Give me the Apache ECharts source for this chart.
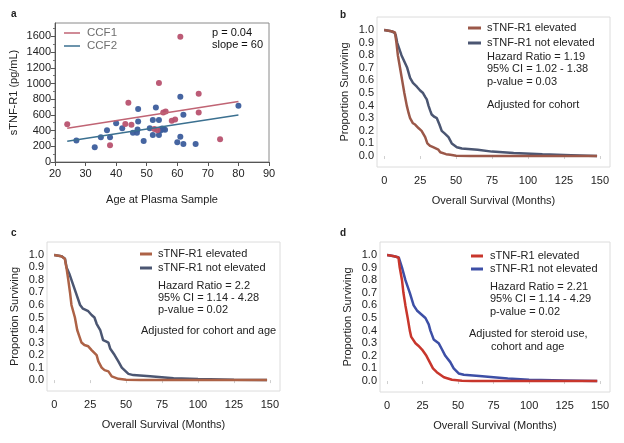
<!DOCTYPE html>
<html><head><meta charset="utf-8">
<script src="https://cdn.jsdelivr.net/npm/echarts@6/dist/echarts.min.js"></script>
<style>html,body{margin:0;padding:0;background:#fff}#c{width:624px;height:443px}</style>
</head><body><div id="c"></div><script>
// ---------- Panel a data ----------
const ccf1Age = [24, 38, 43, 44, 45, 52.5, 53.5, 54, 55.4, 56.2, 58.2, 59.3, 61, 67, 67, 74];
const ccf1Val = [480, 212, 483, 755, 474, 420, 405, 1005, 631, 644, 525, 541, 1595, 870, 631, 290];
const ccf2Age = [27, 33, 35, 37, 38, 40, 42, 45.5, 46.8, 47, 47.2, 47.2, 49, 51, 52, 52, 53, 54, 54, 54.5, 55, 55.5, 56, 60, 61, 61, 62, 62, 66, 80];
const ccf2Val = [273, 188, 316, 405, 316, 495, 431, 371, 371, 415, 516, 675, 269, 430, 534, 344, 695, 534, 344, 400, 425, 418, 410, 252, 832, 320, 602, 230, 230, 715];
const ccf1Fit = [[24, 431], [80, 770]];
const ccf2Fit = [[24, 265], [80, 598]];
const ageTicks = [20, 30, 40, 50, 60, 70, 80, 90];
const valTicks = [0, 200, 400, 600, 800, 1000, 1200, 1400, 1600];
const valMinorTicks = [100, 300, 500, 700, 900, 1100, 1300, 1500, 1700];

// ---------- KM data ----------
const monthTicks = [0, 25, 50, 75, 100, 125, 150];
const survTicks = [0, 0.1, 0.2, 0.3, 0.4, 0.5, 0.6, 0.7, 0.8, 0.9, 1.0];

const bElevMonths = [0, 5, 7.5, 8.5, 9.5, 11, 12.5, 14, 15.7, 17, 18, 20, 21.5, 24, 26, 27.5, 28.5, 30, 32, 34, 37.7, 39, 40, 43, 46, 50, 60, 80, 148];
const bElevSurv   = [1, 0.99, 0.98, 0.9, 0.8, 0.7, 0.6, 0.5, 0.4, 0.34, 0.3, 0.26, 0.25, 0.22, 0.2, 0.17, 0.15, 0.1, 0.08, 0.07, 0.05, 0.03, 0.02, 0.015, 0.01, 0.003, 0.001, 0, 0];
const bNotMonths  = [0, 5, 7, 8, 9, 10.5, 12, 14, 16, 18, 20, 22.7, 25, 27, 28.5, 29.6, 30.8, 32, 33, 35, 36.6, 38.4, 40, 42, 44.7, 47, 50.5, 54, 65, 75, 90, 110, 130, 148];
const bNotSurv    = [1, 0.99, 0.98, 0.96, 0.9, 0.85, 0.8, 0.75, 0.7, 0.62, 0.58, 0.55, 0.52, 0.5, 0.47, 0.45, 0.4, 0.36, 0.33, 0.31, 0.3, 0.25, 0.2, 0.18, 0.15, 0.1, 0.07, 0.06, 0.05, 0.035, 0.025, 0.015, 0.007, 0];

const cElevMonths = [0, 5, 7.4, 8.5, 9.8, 11, 12, 14.4, 16, 17.5, 19, 21, 23.7, 26, 29.5, 30.7, 33, 35, 37.7, 40, 44.6, 50, 60, 148];
const cElevSurv   = [1, 0.99, 0.97, 0.9, 0.8, 0.7, 0.6, 0.5, 0.4, 0.35, 0.3, 0.28, 0.27, 0.24, 0.2, 0.15, 0.1, 0.08, 0.07, 0.03, 0.01, 0.002, 0, 0];
const cNotMonths  = [0, 5, 7.5, 8.6, 10.5, 12, 15, 18, 20, 23.7, 26, 28, 29.5, 32, 34, 36, 37.7, 39, 42, 44.6, 47, 51.6, 55, 66.7, 83, 100, 125, 148];
const cNotSurv    = [1, 0.99, 0.97, 0.9, 0.85, 0.8, 0.7, 0.6, 0.57, 0.55, 0.52, 0.5, 0.45, 0.4, 0.32, 0.31, 0.3, 0.25, 0.2, 0.15, 0.1, 0.05, 0.04, 0.03, 0.015, 0.008, 0.003, 0];

const dElevMonths = [0, 5, 8, 8.9, 10.5, 11.5, 12.9, 14.5, 16, 17, 20, 22, 24.6, 27.7, 30, 32.3, 35, 37.5, 40, 45.7, 52.7, 60, 148];
const dElevSurv   = [1, 0.99, 0.98, 0.9, 0.8, 0.7, 0.6, 0.5, 0.4, 0.35, 0.3, 0.28, 0.25, 0.2, 0.15, 0.1, 0.07, 0.05, 0.03, 0.01, 0.002, 0, 0];
const dNotMonths  = [0, 5, 8.2, 10.5, 12.9, 16, 18.7, 21, 24, 27, 29.3, 30.5, 32.8, 36.3, 38.7, 41, 44.5, 46.9, 50.4, 54, 65, 75, 85, 100, 125, 148];
const dNotSurv    = [1, 0.99, 0.98, 0.9, 0.8, 0.7, 0.6, 0.56, 0.53, 0.5, 0.45, 0.4, 0.33, 0.3, 0.25, 0.2, 0.15, 0.1, 0.06, 0.05, 0.04, 0.03, 0.02, 0.01, 0.005, 0];

const FONT = "'Liberation Sans', Arial, sans-serif";
const zip = (a, b) => a.map((v, i) => [v, b[i]]);

const chart = echarts.init(document.getElementById('c'), null, {renderer: 'canvas'});

const kmGrids = [
  {left: 377, top: 17, width: 233, height: 150, xmin: -5, xmax: 157},
  {left: 47, top: 242, width: 233, height: 149, xmin: -5, xmax: 157},
  {left: 380, top: 242, width: 230, height: 150, xmin: -5, xmax: 157}
];

const grids = [{left: 55, top: 23, width: 214, height: 139, show: true, borderColor: '#8a8a8a', borderWidth: 1, backgroundColor: '#fff'}]
  .concat(kmGrids.map(g => ({left: g.left, top: g.top, width: g.width, height: g.height, show: true, borderColor: '#dcdcdc', borderWidth: 1})));

const xAxes = [{
  gridIndex: 0, type: 'value', min: 20, max: 90, interval: 10,
  axisLine: {show: true, lineStyle: {color: '#555'}},
  axisTick: {show: true, length: 4, lineStyle: {color: '#555'}},
  axisLabel: {color: '#222', fontSize: 11, fontFamily: FONT, margin: 6, formatter: v => String(v)},
  splitLine: {show: false},
  name: 'Age at Plasma Sample', nameLocation: 'middle', nameGap: 32,
  nameTextStyle: {color: '#222', fontSize: 11, fontFamily: FONT}
}];
const yAxes = [{
  gridIndex: 0, type: 'value', min: 0, max: 1770,
  axisLine: {show: true, lineStyle: {color: '#555'}},
  axisTick: {show: true, length: 4, customValues: valTicks, lineStyle: {color: '#555'}},
  axisLabel: {color: '#222', fontSize: 11, fontFamily: FONT, margin: 4, customValues: valTicks, formatter: v => String(v)},
  splitLine: {show: false},
  name: 'sTNF-R1 (pg/mL)', nameLocation: 'middle', nameGap: 36,
  nameTextStyle: {color: '#222', fontSize: 11, fontFamily: FONT}
}, {
  gridIndex: 0, type: 'value', min: 0, max: 1770, position: 'left',
  axisLine: {show: false},
  axisTick: {show: true, length: 2, customValues: valMinorTicks, lineStyle: {color: '#777'}},
  axisLabel: {show: false},
  splitLine: {show: false}
}];

kmGrids.forEach((g, i) => {
  const gi = i + 1;
  xAxes.push({
    gridIndex: gi, type: 'value', min: g.xmin, max: g.xmax,
    axisLine: {show: false},
    axisTick: {show: true, length: 3, customValues: monthTicks, lineStyle: {color: '#cfcfcf'}},
    axisLabel: {color: '#222', fontSize: 11, fontFamily: FONT, margin: 8, customValues: monthTicks},
    splitLine: {show: false},
    name: 'Overall Survival (Months)', nameLocation: 'middle', nameGap: 28,
    nameTextStyle: {color: '#222', fontSize: 11, fontFamily: FONT}
  });
  yAxes.push({
    gridIndex: gi, type: 'value', min: -0.087, max: 1.103,
    axisLine: {show: false},
    axisTick: {show: false},
    axisLabel: {color: '#222', fontSize: 11, fontFamily: FONT, margin: 3, customValues: survTicks,
      formatter: v => v.toFixed(1)},
    splitLine: {show: false},
    name: 'Proportion Surviving', nameLocation: 'middle', nameGap: 27,
    nameTextStyle: {color: '#222', fontSize: 11, fontFamily: FONT}
  });
});

const kmLine = (name, gi, data, color) => ({
  name, type: 'line', xAxisIndex: gi, yAxisIndex: gi + 1, data, showSymbol: false, symbol: 'none',
  lineStyle: {color, width: 2.5}, itemStyle: {color}, animation: false
});

const series = [
  {name: 'CCF1 fit', type: 'line', xAxisIndex: 0, yAxisIndex: 0, data: ccf1Fit, symbol: 'none', lineStyle: {color: '#c06474', width: 1.5}, animation: false},
  {name: 'CCF2 fit', type: 'line', xAxisIndex: 0, yAxisIndex: 0, data: ccf2Fit, symbol: 'none', lineStyle: {color: '#3b7090', width: 1.5}, animation: false},
  {name: 'CCF2', type: 'scatter', xAxisIndex: 0, yAxisIndex: 0, data: zip(ccf2Age, ccf2Val), symbolSize: 6, itemStyle: {color: '#3c5d9c', opacity: 0.95}, animation: false},
  {name: 'CCF1', type: 'scatter', xAxisIndex: 0, yAxisIndex: 0, data: zip(ccf1Age, ccf1Val), symbolSize: 6, itemStyle: {color: '#b8526f', opacity: 0.95}, animation: false},
  kmLine('b not', 1, zip(bNotMonths, bNotSurv), '#4b5672'),
  kmLine('b elev', 1, zip(bElevMonths, bElevSurv), '#9b5849'),
  kmLine('c not', 2, zip(cNotMonths, cNotSurv), '#4b5672'),
  kmLine('c elev', 2, zip(cElevMonths, cElevSurv), '#ad6246'),
  kmLine('d not', 3, zip(dNotMonths, dNotSurv), '#3d4fa6'),
  kmLine('d elev', 3, zip(dElevMonths, dElevSurv), '#c8362c')
];

const sw = (x1, x2, y, color, w) => ({type: 'line', shape: {x1, y1: y, x2, y2: y}, style: {stroke: color, lineWidth: w || 3}});
function textAt(x, yMid, s, color, size, weight) {
  return {type: 'text', x: x, y: yMid, style: {text: s, fill: color || '#222', font: (weight || 'normal') + ' ' + (size || 11) + 'px ' + FONT, textVerticalAlign: 'middle', verticalAlign: 'middle'}};
}

const graphic = [
  textAt(11, 14, 'a', '#222', 10, 'bold'),
  textAt(340, 15, 'b', '#222', 10, 'bold'),
  textAt(11, 233, 'c', '#222', 10, 'bold'),
  textAt(340, 233, 'd', '#222', 10, 'bold'),
  // panel a legend
  sw(64, 80, 33, '#c06474', 1.5), textAt(87, 33, 'CCF1', '#6f6f6f', 11.5),
  sw(64, 80, 46, '#3b7090', 1.5), textAt(87, 46, 'CCF2', '#6f6f6f', 11.5),
  textAt(212, 33, 'p = 0.04', '#111', 11),
  textAt(212, 45, 'slope = 60', '#111', 11),
  // panel b
  sw(468, 481, 28, '#9b5849'), textAt(487, 28, 'sTNF-R1 elevated'),
  sw(468, 481, 43, '#4b5672'), textAt(487, 43, 'sTNF-R1 not elevated'),
  textAt(487, 57, 'Hazard Ratio = 1.19'),
  textAt(487, 69, '95% CI = 1.02 - 1.38'),
  textAt(487, 82, 'p-value = 0.03'),
  textAt(487, 105, 'Adjusted for cohort'),
  // panel c
  sw(140, 152, 254, '#ad6246'), textAt(158, 254, 'sTNF-R1 elevated'),
  sw(140, 152, 268, '#4b5672'), textAt(158, 268, 'sTNF-R1 not elevated'),
  textAt(158, 286, 'Hazard Ratio = 2.2'),
  textAt(158, 298, '95% CI = 1.14 - 4.28'),
  textAt(158, 310, 'p-value = 0.02'),
  textAt(141, 331, 'Adjusted for cohort and age'),
  // panel d
  sw(471, 483, 256, '#c8362c'), textAt(490, 256, 'sTNF-R1 elevated'),
  sw(471, 483, 269, '#3d4fa6'), textAt(490, 269, 'sTNF-R1 not elevated'),
  textAt(490, 287, 'Hazard Ratio = 2.21'),
  textAt(490, 299, '95% CI = 1.14 - 4.29'),
  textAt(490, 312, 'p-value = 0.02'),
  textAt(469, 334, 'Adjusted for steroid use,'),
  textAt(491, 347, 'cohort and age')
];

chart.setOption({
  backgroundColor: '#fff',
  animation: false,
  grid: grids,
  xAxis: xAxes,
  yAxis: yAxes,
  series: series,
  graphic: graphic
});
</script></body></html>
